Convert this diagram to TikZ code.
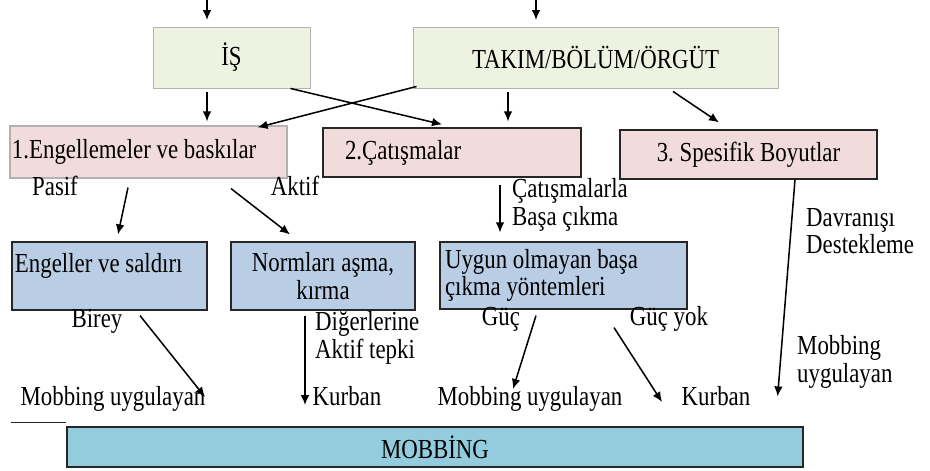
\documentclass[tikz,border=0pt]{standalone}
\usepackage{fontspec}
\setmainfont{Liberation Serif}[FakeStretch=0.83]
\usetikzlibrary{arrows.meta, positioning, calc}
\frenchspacing

\definecolor{isgreen}{HTML}{EEF3E1}
\definecolor{rosepink}{HTML}{F2DCDB}
\definecolor{steelblue}{HTML}{B9CDE5}
\definecolor{mobteal}{HTML}{93CDDD}

\begin{document}
\begin{tikzpicture}[
        x=0.03cm, y=-0.03cm,
        font=\fontsize{23.5}{23.5}\selectfont,
        greenbox/.style={rectangle, draw=black!30, line width=0.8pt, fill=isgreen, minimum height=1.83cm},
        pinkbox/.style={rectangle, draw=black!85, line width=1pt, fill=rosepink, minimum height=1.47cm},
        bluebox/.style={rectangle, draw=black!85, line width=1pt, fill=steelblue, minimum height=2.04cm},
        mobbox/.style={rectangle, draw=black!85, line width=1pt, fill=mobteal, minimum height=1.2cm},
        lbl/.style={inner sep=0pt, text height=0.66em, text depth=0.25em},
        multi/.style={inner sep=0pt, align=flush left},
        arrow/.style={-{Latex[length=0.3cm, width=0.26cm]}, line width=1.3pt}
    ]
    \useasboundingbox[fill=white] (0,0) rectangle (930,470);

    % sources
    \node[greenbox, minimum width=4.71cm] (is) at (231.5,57.5) {İŞ};
    \node[greenbox, minimum width=10.95cm] (tbo) at (595.5,57.5) {TAKIM/BÖLÜM/ÖRGÜT};
    \coordinate (top1) at (207,0);
    \coordinate (top2) at (536,0);

    % three dimensions
    \node[pinkbox, draw=black!30, minimum height=1.56cm, inner xsep=0.06cm, text width=8.19cm, align=flush left] (eng1) at (148.5,152) {1.Engellemeler ve baskılar};
    \node[pinkbox, inner xsep=0.66cm, text width=6.42cm, align=flush left] (cat2) at (452,152.5) {2.Çatışmalar};
    \node[pinkbox, minimum width=7.71cm] (spe3) at (748.5,154.5) {3. Spesifik Boyutlar};

    % behaviours
    \node[bluebox, inner xsep=0.09cm, text width=5.67cm, align=flush left, text height=0.55cm, text depth=0.79cm] (engs) at (109.5,276) {Engeller ve saldırı};
    \node[bluebox, minimum width=5.52cm, align=center] (norm) at (323,276) {Normları aşma,\\kırma};
    \node[bluebox, minimum height=2.01cm, inner xsep=0.15cm, text width=7.11cm, align=flush left] (uyg) at (563.5,275.5) {Uygun olmayan başa\\çıkma yöntemleri};

    % roles
    \node[lbl] (mu1) at (113,403) {Mobbing uygulayan};
    \node[lbl] (kur1) at (347,403) {Kurban};
    \node[lbl] (mu2) at (530,403) {Mobbing uygulayan};
    \node[lbl] (kur2) at (716,403) {Kurban};

    \node[mobbox, minimum width=22.08cm] (mob) at (435,447) {MOBBİNG};
    \draw[line width=1pt, black!85] ($(mob.north west)+(0,-4)$) -- ++(-55,0);

    % labels
    \node[lbl] (pasif) at (55,193) {Pasif};
    \node[lbl] (aktif) at (295,193) {Aktif};
    \node[multi, anchor=west] (cbc) at (512,205) {Çatışmalarla\\Başa çıkma};
    \node[multi, anchor=west] (dd) at (806,231) {Davranışı\\Destekleme};
    \node[multi, anchor=west] (mu3) at (797,362) {Mobbing\\uygulayan};
    \node[lbl] (birey) at (97,325) {Birey};
    \node[multi, anchor=west] (dat) at (315,338) {Diğerlerine\\Aktif tepki};
    \node[lbl] (guc) at (501,323) {Güç};
    \node[lbl] (gucyok) at (669,323) {Güç yok};

    % arrows
    \draw[arrow] (top1) -- ($(top1)+(0,20)$);
    \draw[arrow] (top2) -- ($(top2)+(0,20)$);
    \draw[arrow] ($(is.south)+(-24.5,4)$) -- ($(eng1.north)+(58.5,-4)$);
    \draw[arrow] ($(is.south east)+(-20,0)$) -- ($(cat2.north)+(-10,-3)$);
    \draw[arrow] ($(tbo.south west)+(4,-2)$) -- ($(eng1.north east)+(-30,2)$);
    \draw[arrow] ($(tbo.south)+(-87.5,4)$) -- ($(cat2.north)+(56,-6)$);
    \draw[arrow] ($(tbo.south)+(77.5,3)$) -- ($(spe3.north)+(-29.5,-7)$);
    \draw[arrow] ($(eng1.south)+(-20.5,9)$) -- ($(engs.north)+(8.5,-7)$);
    \draw[arrow] ($(eng1.south)+(82.5,10)$) -- ($(norm.north)+(-33,-7)$);
    \draw[arrow] ($(cat2.south)+(48,7)$) -- ($(uyg.north)+(-63.5,-9)$);
    \draw[arrow] ($(spe3.south)+(46.5,0)$) -- ($(mob.north east)+(-26,-30)$);
    \draw[arrow] ($(engs.south)+(30.5,5)$) -- ($(mu1)+(92,-6)$);
    \draw[arrow] ($(norm.south)+(-18,5)$) -- ($(kur1)+(-42,2)$);
    \draw[arrow] ($(uyg.south)+(-27.5,6)$) -- ($(mu2)+(-17,-14)$);
    \draw[arrow] ($(uyg.south)+(50.5,18)$) -- ($(kur2)+(-54,-1)$);
\end{tikzpicture}
\end{document}
